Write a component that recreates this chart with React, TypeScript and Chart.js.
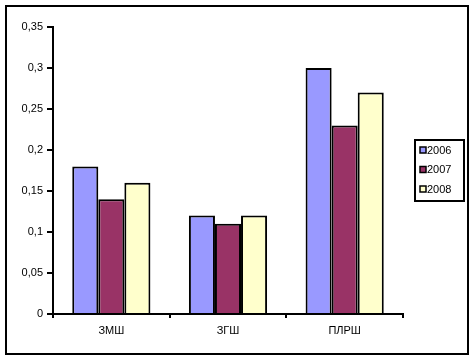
import React, { useEffect, useRef } from "react";
import { Chart, registerables } from "chart.js";

Chart.register(...registerables);

const categories = ["ЗМШ", "ЗГШ", "ПЛРШ"];
const seriesLabels = ["2006", "2007", "2008"];
const values2006 = [0.18, 0.12, 0.3];
const values2007 = [0.14, 0.11, 0.23];
const values2008 = [0.16, 0.12, 0.27];
const seriesColors = ["#9999FF", "#993366", "#FFFFCC"];

const FONT = "'Liberation Sans', Arial, sans-serif";

const frameAndLegend = {
  id: "frameAndLegend",
  afterDraw(chart: any) {
    const ctx = chart.ctx;
    ctx.save();
    ctx.strokeStyle = "#000";
    ctx.lineWidth = 2;
    ctx.strokeRect(6, 6, 462, 348);
    // legend box
    const lx = 414, ly = 140, lw = 50, lh = 61;
    ctx.strokeRect(lx + 1, ly, lw - 1, lh);
    ctx.font = "11px " + FONT;
    ctx.textBaseline = "middle";
    ctx.textAlign = "left";
    chart.data.datasets.forEach((ds: any, i: number) => {
      const cy = ly + 10 + i * 19.5;
      ctx.fillStyle = ds.backgroundColor;
      ctx.fillRect(420, cy - 3, 6, 6);
      ctx.lineWidth = 1.5;
      ctx.strokeStyle = "#000";
      ctx.strokeRect(420, cy - 3, 6, 6);
      ctx.fillStyle = "#000";
      ctx.fillText(ds.label, 427, cy + 0.5);
    });
    ctx.restore();
  },
};

export default function App() {
  const ref = useRef<HTMLCanvasElement>(null);
  useEffect(() => {
    if (!ref.current) return;
    const chart = new Chart(ref.current, {
      type: "bar",
      data: {
        labels: categories,
        datasets: [values2006, values2007, values2008].map((v, i) => ({
          label: seriesLabels[i],
          data: v,
          backgroundColor: seriesColors[i],
          borderColor: "#000",
          borderWidth: 2,
          borderSkipped: "bottom",
          categoryPercentage: 0.67,
          barPercentage: 1,
        })),
      },
      options: {
        responsive: false,
        animation: false,
        devicePixelRatio: 1,
        layout: { padding: { left: 0, top: 27, right: 69, bottom: 0 } },
        plugins: { legend: { display: false }, tooltip: { enabled: false } },
        scales: {
          x: {
            afterFit: (s: any) => { s.height = 44; },
            grid: {
              drawOnChartArea: false,
              drawTicks: true,
              tickLength: 4,
              color: "#000",
              lineWidth: 2,
              offset: true,
            },
            border: { color: "#000", width: 2 },
            ticks: {
              color: "#000",
              padding: 6,
              font: { family: FONT, size: 11 },
              maxRotation: 0,
            },
          },
          y: {
            min: 0,
            max: 0.35,
            afterFit: (s: any) => { s.width = 53; },
            grid: {
              drawOnChartArea: false,
              drawTicks: true,
              tickLength: 6,
              color: "#000",
              lineWidth: 2,
            },
            border: { color: "#000", width: 2 },
            ticks: {
              stepSize: 0.05,
              color: "#000",
              padding: 4,
              font: { family: FONT, size: 11 },
              callback: (v: any) => String(Math.round(Number(v) * 100) / 100).replace(".", ","),
            },
          },
        },
      },
      plugins: [frameAndLegend],
    });
    return () => chart.destroy();
  }, []);
  return (
    <div style={{ position: "absolute", left: 0, top: 0, width: 472, height: 358, background: "#fff" }}>
      <canvas ref={ref} width={472} height={358} />
    </div>
  );
}
